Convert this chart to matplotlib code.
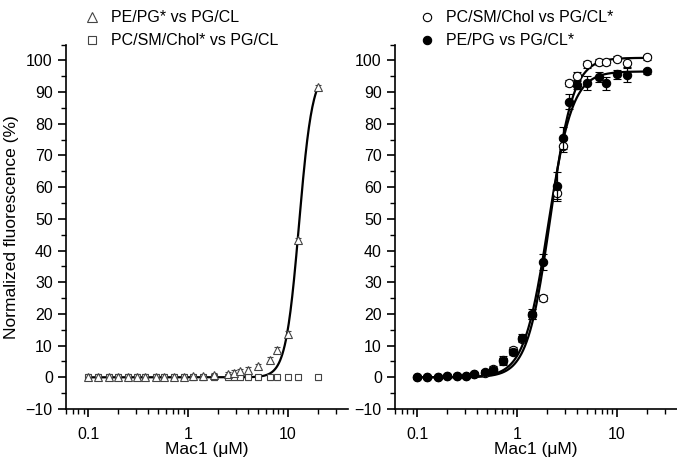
import numpy as np
import matplotlib
matplotlib.use("Agg")
import matplotlib.pyplot as plt
from matplotlib.ticker import LogLocator, MultipleLocator, FixedLocator, NullFormatter
from matplotlib.lines import Line2D

plt.rcParams['font.family'] = ['Liberation Sans', 'DejaVu Sans']

# Concentrations (uM)
conc = [0.1, 0.125, 0.16, 0.2, 0.25, 0.31, 0.37, 0.48, 0.58, 0.72, 0.9, 1.12,
        1.42, 1.82, 2.5, 2.9, 3.3, 4.0, 5.0, 6.6, 7.7, 10, 12.5, 20]

# Left panel
pepg_star = [0.1, 0.1, 0.1, 0.1, 0.1, 0.1, 0.1, 0.2, 0.2, 0.2, 0.2, 0.3,
             0.4, 0.6, 0.9, 1.5, 1.9, 2.4, 3.5, 5.6, 8.7, 13.8, 43.2, 91.5]
pepg_star_err = [0.8] * 24
pcsm_star = [0.0] * 24
pcsm_star_err = [0.8] * 24
left_fit = dict(top=97.0, bottom=0.0, ec50=12.9, hill=6.5)

# Right panel
pcsm_open = [0.0, 0.0, 0.0, 0.3, 0.4, 0.4, 1.0, 1.5, 2.5, 5.5, 8.5, 12.0,
             19.5, 25.0, 58.0, 73.0, 92.8, 95.0, 98.7, 99.5, 99.5, 100.5, 99.2, 101.0]
pcsm_open_err = [0.5, 0.5, 0.5, 0.5, 0.5, 0.5, 0.5, 0.8, 1.0, 1.2, 1.2, 1.0,
                 1.0, 1.0, 2.5, 2.0, 1.0, 1.2, 1.0, 1.0, 1.0, 0.8, 1.5, 0.8]
pepg_fill = [0.0, 0.0, 0.1, 0.3, 0.4, 0.4, 1.1, 1.7, 2.2, 5.0, 8.0, 12.5,
             20.0, 36.4, 60.5, 75.5, 87.0, 92.3, 93.0, 94.7, 92.8, 95.6, 95.5, 96.5]
pepg_fill_err = [0.3, 0.3, 0.3, 0.3, 0.3, 0.3, 0.5, 0.5, 0.8, 1.0, 1.0, 1.2,
                 1.5, 2.4, 4.2, 3.5, 2.4, 1.2, 2.2, 1.6, 2.1, 1.5, 2.4, 0.8]
open_fit = dict(top=100.8, bottom=0.0, ec50=2.15, hill=3.8)
fill_fit = dict(top=96.5, bottom=0.0, ec50=2.05, hill=3.6)

x_ticks = [0.1, 1, 10]
x_ticklabels = ['0.1', '1', '10']
y_ticks = list(range(-10, 101, 10))


def hill(x, top, bottom, ec50, hill):
    return bottom + (top - bottom) / (1.0 + (ec50 / x) ** hill)


fig = plt.figure(figsize=(6.77, 4.57), dpi=100)
ax1 = fig.add_axes([66/677, 1-409/457, 282/677, (409-44.5)/457])
ax2 = fig.add_axes([395/677, 1-409/457, 282/677, (409-44.5)/457])

xs = np.logspace(np.log10(0.1), np.log10(20), 400)
gray = '#444444'

# Left
ax1.plot(xs, hill(xs, **left_fit), color='black', lw=1.6, zorder=2)
ax1.errorbar(conc, pcsm_star, yerr=pcsm_star_err, fmt='s', ms=5, mfc='white',
             mec=gray, mew=0.8, ecolor=gray, elinewidth=0.7, capsize=2, zorder=3)
ax1.errorbar(conc, pepg_star, yerr=pepg_star_err, fmt='^', ms=6, mfc='white',
             mec=gray, mew=0.8, ecolor=gray, elinewidth=0.7, capsize=2, zorder=4)

# Right
ax2.plot(xs, hill(xs, **open_fit), color='black', lw=1.6, zorder=2)
ax2.plot(xs, hill(xs, **fill_fit), color='black', lw=1.6, zorder=2)
ax2.errorbar(conc, pcsm_open, yerr=pcsm_open_err, fmt='o', ms=6, mfc='white',
             mec='black', mew=0.8, ecolor='black', elinewidth=0.9, capsize=3, zorder=3)
ax2.errorbar(conc, pepg_fill, yerr=pepg_fill_err, fmt='o', ms=6, mfc='black',
             mec='black', mew=0.8, ecolor='black', elinewidth=0.9, capsize=3, zorder=4)

for ax in (ax1, ax2):
    ax.set_xscale('log')
    ax.set_xlim(0.06, 39.8)
    ax.set_ylim(-10, 105)
    ax.spines['top'].set_visible(False)
    ax.spines['right'].set_visible(False)
    ax.spines['left'].set_linewidth(1.2)
    ax.spines['bottom'].set_linewidth(1.2)
    ax.xaxis.set_major_locator(FixedLocator(x_ticks))
    ax.set_xticklabels(x_ticklabels)
    ax.xaxis.set_minor_locator(LogLocator(base=10, subs=np.arange(2, 10)))
    ax.xaxis.set_minor_formatter(NullFormatter())
    ax.yaxis.set_major_locator(FixedLocator(y_ticks))
    ax.yaxis.set_minor_locator(MultipleLocator(5))
    ax.tick_params(which='major', direction='out', length=6, width=1.2, labelsize=11.5)
    ax.tick_params(which='minor', direction='out', length=3.5, width=1.0)
    ax.tick_params(axis='x', which='major', pad=7)
    ax.set_xlabel('Mac1 (\u03bcM)', fontsize=12.5, labelpad=0)

ax1.set_ylabel('Normalized fluorescence (%)', fontsize=12.5, labelpad=5)

h1 = [Line2D([], [], marker='^', ls='none', ms=7, mfc='white', mec=gray, mew=0.8),
      Line2D([], [], marker='s', ls='none', ms=6, mfc='white', mec=gray, mew=0.8)]
fig.legend(h1, ['PE/PG* vs PG/CL', 'PC/SM/Chol* vs PG/CL'], loc='upper left',
           bbox_to_anchor=(76/677, 1-4/457), frameon=False, fontsize=11.5,
           handlelength=1.2, handletextpad=0.6, labelspacing=0.5, borderaxespad=0)
h2 = [Line2D([], [], marker='o', ls='none', ms=6, mfc='white', mec='black', mew=0.8),
      Line2D([], [], marker='o', ls='none', ms=6, mfc='black', mec='black', mew=0.8)]
fig.legend(h2, ['PC/SM/Chol vs PG/CL*', 'PE/PG vs PG/CL*'], loc='upper left',
           bbox_to_anchor=(411/677, 1-4/457), frameon=False, fontsize=11.5,
           handlelength=1.2, handletextpad=0.6, labelspacing=0.5, borderaxespad=0)

fig.savefig('out.png', dpi=100)
